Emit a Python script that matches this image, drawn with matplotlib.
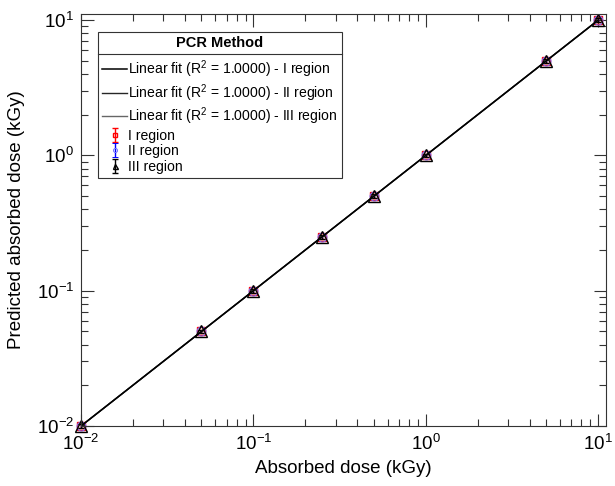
import numpy as np
import matplotlib
matplotlib.use('Agg')
import matplotlib.pyplot as plt
from matplotlib.lines import Line2D

plt.rcParams['font.family'] = ['Liberation Sans', 'DejaVu Sans']
plt.rcParams['mathtext.default'] = 'regular'

# absorbed dose (kGy)
dose = [0.01, 0.05, 0.1, 0.25, 0.5, 1.0, 5.0, 10.0]
pred_I = [0.01, 0.05, 0.1, 0.25, 0.5, 1.0, 5.0, 10.0]
pred_II = [0.01, 0.05, 0.1, 0.25, 0.5, 1.0, 5.0, 10.0]
pred_III = [0.01, 0.05, 0.1, 0.25, 0.5, 1.0, 5.0, 10.0]
err_I = [0.0003, 0.0015, 0.003, 0.007, 0.015, 0.03, 0.15, 0.3]
err_II = [0.0003, 0.0015, 0.003, 0.007, 0.015, 0.03, 0.15, 0.3]
err_III = [0.0003, 0.0015, 0.003, 0.007, 0.015, 0.03, 0.15, 0.3]
fit_x = [0.01, 10.0]

fig = plt.figure(figsize=(6.15, 4.86), dpi=100)
ax = fig.add_axes([81/615, 1-426/486, 525/615, 412/486])

ax.plot(fit_x, fit_x, color='black', lw=1.1, zorder=2.3,
        label='Linear fit (R$^2$ = 1.0000) - I region')
ax.plot(fit_x, fit_x, color='#262626', lw=1.0, zorder=2.2,
        label='Linear fit (R$^2$ = 1.0000) - II region')
ax.plot(fit_x, fit_x, color='#666666', lw=1.0, zorder=2.1,
        label='Linear fit (R$^2$ = 1.0000) - III region')

ax.errorbar(dose, pred_I, yerr=err_I, fmt='s', ms=5.5, mfc='none', mec='red', ecolor='red',
            capsize=2.5, lw=1, mew=1.0, label='I region', clip_on=False)
ax.errorbar(dose, pred_II, yerr=err_II, fmt='o', ms=6.5, mfc='none', mec='#7070ff', ecolor='blue',
            capsize=2.5, lw=1, mew=0.7, label='II region', clip_on=False)
ax.errorbar(dose, pred_III, yerr=err_III, fmt='^', ms=8, mfc='none', mec='black', ecolor='black',
            capsize=2.5, lw=1, mew=1.0, label='III region', clip_on=False)

ax.set_xscale('log')
ax.set_yscale('log')
ax.set_xlim(0.01, 11.1)
ax.set_ylim(0.01, 11.1)
ax.set_xlabel('Absorbed dose (kGy)', fontsize=13.5, labelpad=4)
ax.set_ylabel('Predicted absorbed dose (kGy)', fontsize=13.5, labelpad=8)
ax.tick_params(which='both', direction='in', top=True, right=True, labelsize=13.5,
               color='#333333', width=0.8)
ax.tick_params(which='major', length=9)
ax.tick_params(which='minor', length=5)
ax.tick_params(axis='x', which='major', pad=6)
ax.tick_params(axis='y', which='major', pad=5)
for s in ax.spines.values():
    s.set_color('#333333')
    s.set_linewidth(0.8)

leg = ax.legend(loc='upper left', bbox_to_anchor=(0.032, 0.956), title='PCR Method',
                fontsize=10.1, frameon=True, fancybox=False, edgecolor='#333333',
                handlelength=1.8, handletextpad=0.05, labelspacing=0.12, borderaxespad=0,
                borderpad=0.3, markerscale=0.45, framealpha=1)
leg.get_title().set_fontweight('bold')
leg.get_title().set_fontsize(10.5)
leg.get_frame().set_linewidth(0.8)
leg._legend_box.sep = 6

fig.canvas.draw()
bb = leg.get_window_extent()
tb = leg.get_title().get_window_extent()
inv = fig.transFigure.inverted()
x0, y_sep = inv.transform((bb.x0, tb.y0 - 4))
x1, _ = inv.transform((bb.x1, tb.y0 - 4))
fig.add_artist(Line2D([x0, x1], [y_sep, y_sep], color='#333333', lw=0.8, transform=fig.transFigure))

fig.savefig('out.png', dpi=100)
